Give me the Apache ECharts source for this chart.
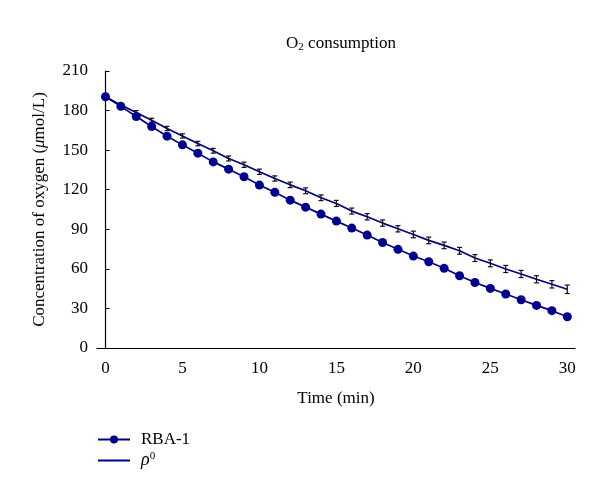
<!DOCTYPE html>
<html>
<head>
<meta charset="utf-8">
<script src="https://cdn.jsdelivr.net/npm/echarts@6/dist/echarts.min.js"></script>
<style>html,body{margin:0;padding:0;background:#fff}#c{width:600px;height:493px}</style>
</head>
<body>
<div id="c"></div>
<script>
const times = [0,1,2,3,4,5,6,7,8,9,10,11,12,13,14,15,16,17,18,19,20,21,22,23,24,25,26,27,28,29,30];
const rba1 = [190.5,183.2,175.5,167.9,160.6,154.0,147.7,141.1,135.6,129.8,123.5,118.0,112.1,106.8,101.5,96.2,90.9,85.6,80.0,74.8,69.7,65.4,60.4,54.8,49.7,45.2,40.9,36.6,32.3,28.3,23.7];
const rho0 = [190.5,184.2,178.5,172.7,166.4,160.8,155.0,149.5,143.7,138.9,133.6,128.5,123.7,119.2,113.9,109.6,103.8,99.5,94.7,90.4,86.1,81.6,77.8,73.7,68.2,64.2,59.9,56.1,52.1,48.3,44.5];
const rhoErr = [0.8,1.2,1.5,1.5,1.6,1.6,1.7,1.8,1.9,2.0,2.0,2.0,2.1,2.2,2.2,2.3,2.3,2.4,2.4,2.4,2.5,2.5,2.5,2.6,2.6,2.6,2.7,2.7,2.7,2.8,3.2];
const xTicks = [0,5,10,15,20,25,30];
const yTicks = {min:0, max:210, interval:30};

const serif = '"Liberation Serif", "DejaVu Serif", serif';
const navy = '#000080';

const chart = echarts.init(document.getElementById('c'), null, {renderer:'canvas'});
chart.setOption({
  animation:false,
  backgroundColor:'#fff',
  title:{
    text:'{a|O}{sub|2}{a| consumption}',
    left:336, top:29, textAlign:'center',
    textStyle:{
      fontWeight:'normal',
      rich:{
        a:{fontFamily:serif, fontSize:17, fontWeight:'normal', color:'#000'},
        sub:{fontFamily:serif, fontSize:11, fontWeight:'normal', color:'#000', verticalAlign:'bottom', padding:[8,0,0,0]}
      }
    }
  },
  grid:{left:97, right:25, top:71, bottom:145, containLabel:false},
  legend:{
    orient:'vertical', left:92, top:426, itemWidth:32, itemHeight:10, itemGap:3,
    data:[{name:'RBA-1'},{name:'rho0', itemStyle:{color:'rgba(0,0,0,0)', borderWidth:0, opacity:0}}],
    formatter:function(n){ return n==='rho0' ? '{i|ρ}{sup|0}' : '{a|'+n+'}'; },
    textStyle:{
      fontFamily:serif, fontSize:17, color:'#000', padding:[0,0,0,6],
      rich:{
        a:{fontFamily:serif, fontSize:17, color:'#000'},
        i:{fontFamily:serif, fontSize:18, fontStyle:'italic', color:'#000'},
        sup:{fontFamily:serif, fontSize:11, color:'#000', verticalAlign:'top', padding:[0,0,8,0]}
      }
    }
  },
  xAxis:{
    type:'value', min:-0.55, max:30.5,
    name:'Time (min)', nameLocation:'middle', nameGap:42,
    nameTextStyle:{fontFamily:serif, fontSize:17, color:'#000'},
    axisLine:{lineStyle:{color:'#000', width:1.2}},
    axisTick:{show:false},
    splitLine:{show:false},
    axisLabel:{customValues:xTicks, fontFamily:serif, fontSize:17, color:'#000', margin:12}
  },
  yAxis:{
    type:'value', min:yTicks.min, max:yTicks.max, interval:yTicks.interval,
    name:'{a|Concentration of oxygen (}{i|μ}{a|mol/L)}', nameLocation:'middle', nameGap:49,
    nameTextStyle:{
      rich:{
        a:{fontFamily:serif, fontSize:17, color:'#000'},
        i:{fontFamily:serif, fontSize:17, fontStyle:'italic', color:'#000'}
      }
    },
    axisLine:{show:true, lineStyle:{color:'#000', width:1.2}},
    axisTick:{show:true, inside:true, length:4, lineStyle:{color:'#000'}},
    splitLine:{show:false},
    axisLabel:{fontFamily:serif, fontSize:17, color:'#000', margin:9}
  },
  series:[
    {
      name:'rho0', type:'line', symbol:'none',
      data:times.map((t,i)=>[t,rho0[i]]),
      lineStyle:{color:navy, width:1.7}, itemStyle:{color:navy}, z:2
    },
    {
      name:'rhoErr', type:'custom',
      data:times.map((t,i)=>[t,rho0[i]-rhoErr[i],rho0[i]+rhoErr[i]]),
      renderItem:function(params, api){
        const lo = api.coord([api.value(0), api.value(1)]);
        const hi = api.coord([api.value(0), api.value(2)]);
        const w = 2.5;
        const st = {stroke:'#111', lineWidth:1.2};
        return {type:'group', children:[
          {type:'line', shape:{x1:lo[0],y1:lo[1],x2:hi[0],y2:hi[1]}, style:st},
          {type:'line', shape:{x1:lo[0]-w,y1:lo[1],x2:lo[0]+w,y2:lo[1]}, style:st},
          {type:'line', shape:{x1:hi[0]-w,y1:hi[1],x2:hi[0]+w,y2:hi[1]}, style:st}
        ]};
      },
      z:3
    },
    {
      name:'RBA-1', type:'line', symbol:'circle', symbolSize:9,
      data:times.map((t,i)=>[t,rba1[i]]),
      lineStyle:{color:navy, width:1.7}, itemStyle:{color:'#00008f'}, z:4
    }
  ]
});
</script>
</body>
</html>
